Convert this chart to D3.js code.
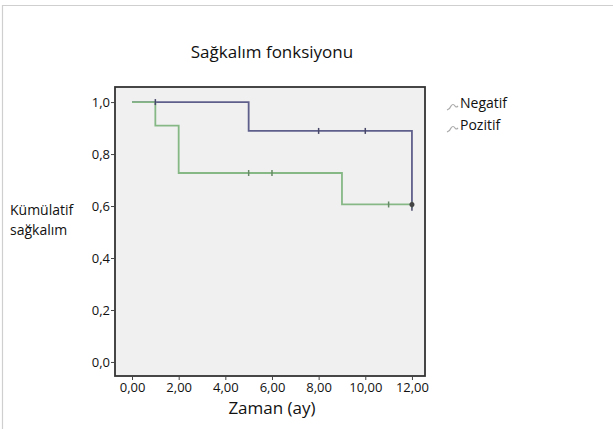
<!DOCTYPE html>
<html><head><meta charset="utf-8">
<script src="https://cdn.jsdelivr.net/npm/d3@7"></script>
<style>body{margin:0;background:#fff}svg{display:block}text{font-family:"Open Sans","Noto Sans",sans-serif;fill:#111}</style>
</head><body><svg id="c" width="613" height="429"></svg>
<script>
const title = "Sağkalım fonksiyonu";
const xTitle = "Zaman (ay)";
const yTitleLines = ["Kümülatif", "sağkalım"];
const xTicks = [0, 2, 4, 6, 8, 10, 12];
const yTicks = [0, 0.2, 0.4, 0.6, 0.8, 1.0];
const seriesNames = ["Negatif", "Pozitif"];
const seriesColors = ["#5f5f8c", "#86b886"];
// step curves: times and survival values
const negTimes = [0, 5, 12];
const negSurv = [1.0, 0.889, 0.593];
const negCensor = [1, 8, 10, 12];
const posTimes = [0, 1, 2, 9];
const posSurv = [1.0, 0.909, 0.727, 0.606];
const posCensor = [5, 6, 11, 12];
const endTime = 12;

const svg = d3.select("#c");
const L = 115, R = 425, T = 87, B = 376;
const x = d3.scaleLinear().domain([-0.73, 12.56]).range([L, R]);
const y = d3.scaleLinear().domain([-0.054, 1.058]).range([B, T]);
const fmt = d => d.toFixed(2).replace(".", ",");
const fmtY = d => d.toFixed(1).replace(".", ",");

// outer border
svg.append("path").attr("d", "M2.5,429 V5.5 H613").attr("fill", "none").attr("stroke", "#cfcfcf").attr("stroke-width", 1.2);

svg.append("rect").attr("x", L).attr("y", T).attr("width", R - L).attr("height", B - T)
  .attr("fill", "#f0f0f0");

svg.append("text").attr("x", 272).attr("y", 58).attr("text-anchor", "middle")
  .style("font-size", "17px").text(title);

function stepPath(times, surv) {
  const pts = [];
  times.forEach((t, i) => {
    if (i > 0) pts.push([t, surv[i - 1]]);
    pts.push([t, surv[i]]);
  });
  pts.push([endTime, surv[surv.length - 1]]);
  return d3.line().x(d => x(d[0])).y(d => y(d[1]))(pts);
}
function survAt(times, surv, t) {
  let v = surv[0];
  times.forEach((tt, i) => { if (tt <= t) v = surv[i]; });
  return v;
}
const series = [
  {times: negTimes, surv: negSurv, cens: negCensor, color: seriesColors[0]},
  {times: posTimes, surv: posSurv, cens: posCensor, color: seriesColors[1]}
];
// draw negatif first then pozitif; start segment of pozitif on top
series.forEach(s => {
  svg.append("path").attr("d", stepPath(s.times, s.surv)).attr("fill", "none")
    .attr("stroke", s.color).attr("stroke-width", 1.8);
});
series.forEach(s => {
  s.cens.forEach(t => {
    const v = survAt(s.times, s.surv, t);
    svg.append("line").attr("x1", x(t)).attr("x2", x(t)).attr("y1", y(v) - 3).attr("y2", y(v) + 3)
      .attr("stroke", d3.color(s.color).darker(0.8)).attr("stroke-width", 1.5);
  });
});
svg.append("circle").attr("cx", x(12)).attr("cy", y(posSurv[3])).attr("r", 2.5).attr("fill", "#444");

// frame
svg.append("rect").attr("x", L).attr("y", T).attr("width", R - L).attr("height", B - T)
  .attr("fill", "none").attr("stroke", "#333").attr("stroke-width", 1.8);

// axes
const yAxis = svg.append("g").attr("transform", `translate(${L},0)`)
  .call(d3.axisLeft(y).tickValues(yTicks).tickFormat(fmtY).tickSize(4).tickPadding(1));
yAxis.select(".domain").remove();
yAxis.selectAll("text").style("font-size", "13px").attr("fill", "#111");
yAxis.selectAll("line").attr("stroke", "#444");
const xAxis = svg.append("g").attr("transform", `translate(0,${B})`)
  .call(d3.axisBottom(x).tickValues(xTicks).tickFormat(fmt).tickSize(4).tickPadding(3));
xAxis.select(".domain").remove();
xAxis.selectAll("text").style("font-size", "13px").attr("fill", "#111");
xAxis.selectAll("line").attr("stroke", "#444");

svg.append("text").attr("x", 272).attr("y", 414).attr("text-anchor", "middle")
  .style("font-size", "17px").text(xTitle);
yTitleLines.forEach((s, i) => {
  svg.append("text").attr("x", 10).attr("y", 215 + i * 20).style("font-size", "14px").text(s);
});

// legend
seriesNames.forEach((n, i) => {
  const ly = 108 + i * 22;
  svg.append("path").attr("d", `M447,${ly + 2} q3,-1 4,-4 q2,-3 4,0 q1,2 3,0`)
    .attr("fill", "none").attr("stroke", "#aaa").attr("stroke-width", 1.2);
  svg.append("text").attr("x", 460).attr("y", ly).style("font-size", "14px").text(n);
});
</script></body></html>
